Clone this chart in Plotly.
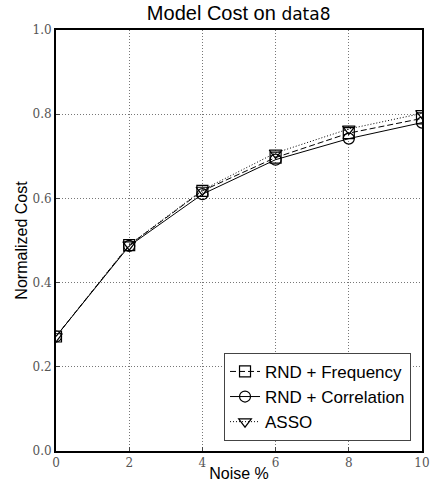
import plotly.graph_objects as go

noise = [0, 2, 4, 6, 8, 10]
rnd_frequency = [0.272, 0.489, 0.618, 0.697, 0.755, 0.790]
rnd_correlation = [0.272, 0.487, 0.610, 0.692, 0.742, 0.780]
asso = [0.272, 0.490, 0.620, 0.708, 0.765, 0.802]

x_ticks = [0, 2, 4, 6, 8, 10]
y_ticks = [0.0, 0.2, 0.4, 0.6, 0.8, 1.0]
y_tick_labels = ["0.0", "0.2", "0.4", "0.6", "0.8", "1.0"]

fig = go.Figure()
fig.add_trace(go.Scatter(x=noise, y=rnd_frequency, name="RND + Frequency",
                         mode="lines+markers",
                         line=dict(color="black", width=1, dash="6px,3px"),
                         marker=dict(symbol="square-open", size=11, color="black", line=dict(width=1.2))))
fig.add_trace(go.Scatter(x=noise, y=rnd_correlation, name="RND + Correlation",
                         mode="lines+markers",
                         line=dict(color="black", width=1, dash="solid"),
                         marker=dict(symbol="circle-open", size=11, color="black", line=dict(width=1.2))))
fig.add_trace(go.Scatter(x=noise, y=asso, name="ASSO",
                         mode="lines+markers",
                         line=dict(color="black", width=1, dash="1px,2px"),
                         marker=dict(symbol="triangle-down-open", size=11, color="black", line=dict(width=1.2))))

fig.update_layout(
    width=442, height=482,
    margin=dict(l=56, r=20, t=30, b=31, autoexpand=False),
    paper_bgcolor="white", plot_bgcolor="white",
    title=dict(text="Model Cost on <span style='font-family:DejaVu Sans;font-size:17px'>data8</span>",
               x=0.54, xanchor="center", y=0.972, yanchor="middle",
               font=dict(family="Liberation Sans, Arial", size=20, color="black")),
    font=dict(family="Liberation Sans, Arial", color="black"),
    xaxis=dict(range=[0, 10], tickvals=x_ticks, ticks="inside", ticklen=4, automargin=False,
               showgrid=True, gridcolor="#777", griddash="1px,2px", gridwidth=1,
               showline=True, linecolor="black", linewidth=1.8, mirror=True,
               tickfont=dict(family="DejaVu Serif", size=12, color="#555"),
               title=dict(text="Noise %", standoff=0,
                          font=dict(family="Liberation Sans, Arial", size=16, color="black")),
               zeroline=False),
    yaxis=dict(range=[0, 1], tickvals=y_ticks, ticktext=y_tick_labels, ticks="inside", ticklen=4, automargin=False,
               showgrid=True, gridcolor="#777", griddash="1px,2px", gridwidth=1,
               showline=True, linecolor="black", linewidth=1.8, mirror=True,
               tickfont=dict(family="DejaVu Serif", size=12, color="#555"),
               title=dict(text="Normalized Cost", standoff=1,
                          font=dict(family="Liberation Sans, Arial", size=16, color="black")),
               zeroline=False),
    legend=dict(x=0.97, y=0.024, xanchor="right", yanchor="bottom",
                bgcolor="white", bordercolor="#444", borderwidth=1,
                font=dict(family="Liberation Sans, Arial", size=17, color="black"),
                tracegroupgap=0, itemwidth=30),
    showlegend=True,
)

fig.write_html("out.html", config={"displayModeBar": False},
               post_script="document.body.style.margin='0px';document.body.style.overflow='hidden';")
